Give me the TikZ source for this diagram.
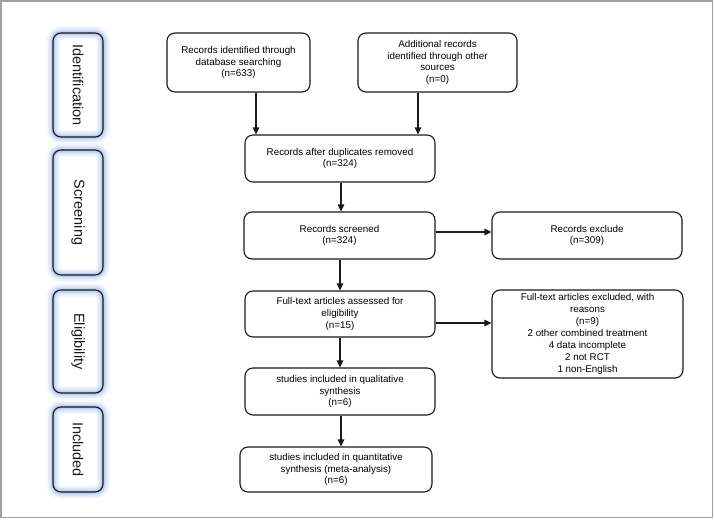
\documentclass[tikz,border=0pt]{standalone}
\usepackage{fontspec}
\setmainfont{Liberation Sans}
\usetikzlibrary{arrows.meta}
\definecolor{glow}{HTML}{9FBCEB}
\definecolor{frame}{HTML}{A0A0A0}
\definecolor{ink}{HTML}{1A1A1A}
\tikzset{
  box/.style={draw=ink, line width=1.1pt, rounded corners=8pt, fill=white, align=center,
    inner sep=2pt, font=\fontsize{9.8}{11.9}\selectfont},
  side/.style={draw=ink, line width=1.1pt, rounded corners=8pt,
    preaction={fill=white},
    preaction={draw=glow, line width=13pt, opacity=0.15},
    preaction={draw=glow, line width=9pt, opacity=0.25},
    preaction={draw=glow, line width=5pt, opacity=0.4},
    preaction={draw=glow, line width=2.5pt, opacity=0.5},
    inner sep=0pt},
  sidetext/.style={rotate=-90, font=\fontsize{14.5}{16}\selectfont, text=ink},
  arr/.style={draw=ink, line width=1.1pt, -{Triangle[length=7pt,width=6.5pt]}}
}
\begin{document}
\begin{tikzpicture}[x=1pt,y=-1pt]
\useasboundingbox (0,0) rectangle (714,519);
\draw[frame, line width=1.5pt] (1,1) rectangle (712.5,517.5);

% side labels
\node[side, minimum width=50pt, minimum height=104pt] (s1) at (78,85) {};
\node[sidetext] (t1) at (s1.center) {Identification};
\node[side, minimum width=50pt, minimum height=125pt] (s2) at (78,212.5) {};
\node[sidetext] (t2) at (s2.center) {Screening};
\node[side, minimum width=50pt, minimum height=103pt] (s3) at (78,341.5) {};
\node[sidetext] (t3) at (s3.center) {Eligibility};
\node[side, minimum width=50pt, minimum height=85pt] (s4) at (78,449.5) {};
\node[sidetext] (t4) at (s4.center) {Included};

% boxes
\node[box, minimum width=143pt, minimum height=59pt] (b1) at (238.5,62.5)
  {Records identified through\\database searching\\(n=633)};
\node[box, minimum width=159pt, minimum height=59pt] (b2) at (437.5,62.5)
  {Additional records\\identified through other\\sources\\(n=0)};
\node[box, minimum width=190pt, minimum height=47pt] (b3) at (340,158.5)
  {Records after duplicates removed\\(n=324)};
\node[box, minimum width=191pt, minimum height=47pt] (b4) at (339.5,235.5)
  {Records screened\\(n=324)};
\node[box, minimum width=190pt, minimum height=47pt] (b5) at (587,235.5)
  {Records exclude\\(n=309)};
\node[box, minimum width=190pt, minimum height=46pt] (b6) at (340,314)
  {Full-text articles assessed for\\eligibility\\(n=15)};
\node[box, minimum width=191pt, minimum height=88pt, inner sep=0pt] (b7) at (587.5,334)
  {Full-text articles excluded, with\\reasons\\(n=9)\\2 other combined treatment\\4 data incomplete\\2 not RCT\\1 non-English};
\node[box, minimum width=190pt, minimum height=47pt] (b8) at (340,391.5)
  {studies included in qualitative\\synthesis\\(n=6)};
\node[box, minimum width=192pt, minimum height=45pt] (b9) at (336,469.5)
  {studies included in quantitative\\synthesis (meta-analysis)\\(n=6)};

% connectors
\coordinate (xa) at (256,0);
\coordinate (xb) at (418,0);
\coordinate (xc) at (341,0);
\coordinate (ya) at (0,232);
\coordinate (yb) at (0,323);
\draw[arr] (b1.south -| xa) -- (b3.north -| xa);
\draw[arr] (b2.south -| xb) -- (b3.north -| xb);
\draw[arr] (b3.south -| xc) -- (b4.north -| xc);
\draw[arr] (b4.east |- ya) -- (b5.west |- ya);
\draw[arr] (b4.south -| b6.north) -- (b6.north);
\draw[arr] (b6.east |- yb) -- (b7.west |- yb);
\draw[arr] (b6.south) -- (b8.north);
\draw[arr] (b8.south -| xc) -- (b9.north -| xc);
\end{tikzpicture}
\end{document}
